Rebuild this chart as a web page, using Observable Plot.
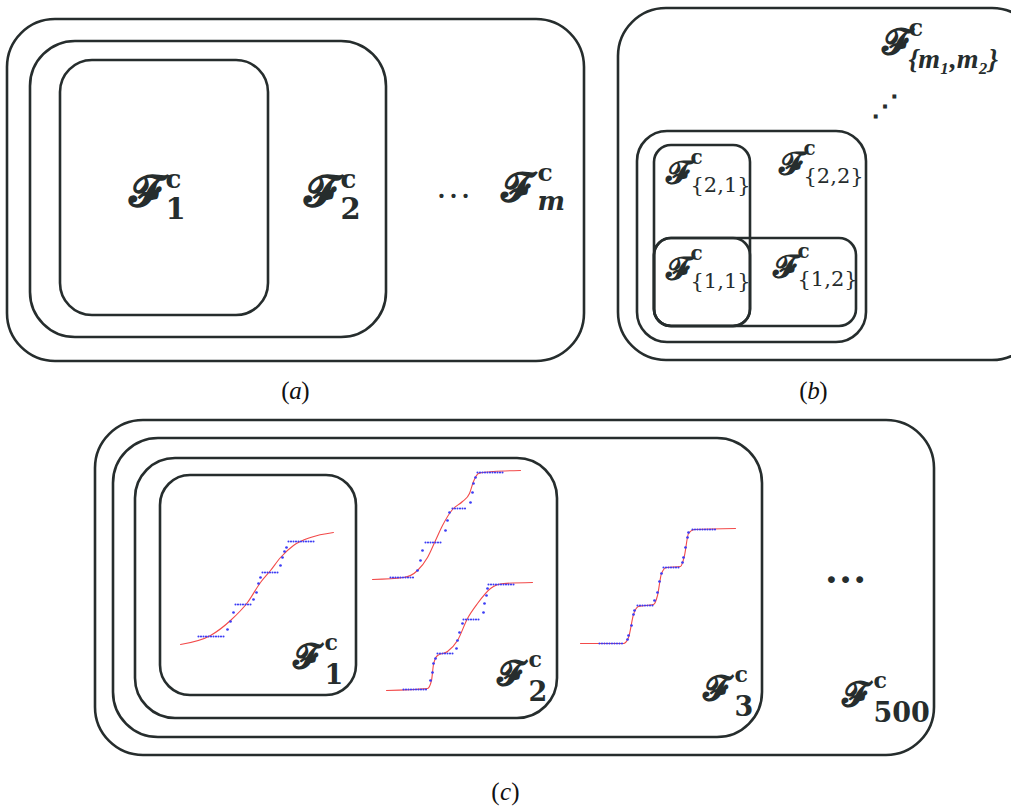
<!DOCTYPE html>
<html><head><meta charset="utf-8">
<script src="https://cdn.jsdelivr.net/npm/d3@7"></script>
<script src="https://cdn.jsdelivr.net/npm/@observablehq/plot@0.6"></script>
<style>body{margin:0;background:#fff}svg{display:block}</style>
</head><body><div id="chart"></div>
<script>
// Nested family boxes (diagram units = picture pixels)
const boxesA = [
  {x1: 7, x2: 584, y1: 19, y2: 361, r: 48},
  {x1: 30, x2: 386, y1: 41, y2: 337, r: 45},
  {x1: 60, x2: 268, y1: 60, y2: 315, r: 32}
];
const boxesB = [
  {x1: 618, x2: 1040, y1: 8, y2: 360, r: 48},
  {x1: 637, x2: 866, y1: 131, y2: 342, r: 30},
  {x1: 654, x2: 750, y1: 145, y2: 326, r: 17},
  {x1: 654, x2: 856, y1: 238, y2: 326, r: 17},
  {x1: 654, x2: 750, y1: 238, y2: 326, r: 17}
];
const boxesC = [
  {x1: 95, x2: 934, y1: 420, y2: 755, r: 48},
  {x1: 113, x2: 762, y1: 438, y2: 737, r: 45},
  {x1: 135, x2: 557, y1: 458, y2: 718, r: 40},
  {x1: 160, x2: 356, y1: 475, y2: 695, r: 30}
];

// Fitted (red) curves
const red1 = [[180,644],[210,635],[230,620],[247,602],[260,582],[270,570],[280,557],[293,545],[310,537],[333,532]];
const red2a = [[372,579],[403,577],[417,570],[427,557],[435,540],[442,525],[452,509],[462,501],[469,493],[473,481],[478,473],[493,471],[520,470]];
const red2b = [[386,690],[427,688],[431,680],[433,664],[437,655],[447,651],[457,640],[467,618],[477,603],[490,588],[503,583],[532,582]];
const red3 = [[580,643],[623,643],[628,637],[633,614],[638,606],[653,604],[657,595],[661,573],[666,567],[680,566],[684,555],[688,533],[694,529],[735,528]];

// Empirical (blue) plateaus: [xStart, xEnd, y]
const flat1 = [[198,225,636],[235,251,604],[262,278,572],[288,314,541]];
const flat2a = [[390,415,577],[425,442,542],[452,467,508],[477,503,472]];
const flat2b = [[403,427,689],[437,453,653],[463,480,619],[488,514,584]];
const flat3 = [[599,623,643],[637,653,605],[663,680,567],[692,716,529]];

// Empirical (blue) points between plateaus
const step1 = [[227,629],[230,621],[233,612],[253,599],[256,592],[258,583],[260,577],[280,565],[282,557],[284,551],[286,547]];
const step2a = [[417,570],[420,560],[422,550],[445,530],[447,520],[449,512],[470,502],[472,492],[473,483],[475,477]];
const step2b = [[430,680],[432,672],[433,663],[435,658],[456,648],[457,640],[459,632],[462,623],[483,612],[484,603],[486,595],[487,588]];
const step3 = [[627,639],[628,635],[631,625],[633,614],[634,610],[654,600],[657,592],[659,581],[661,573],[682,562],[683,557],[685,547],[687,537],[688,532]];

// Labels F^c_sub: x = left of F, y = baseline of F, kind = label style
const labels = [
  {x: 128, y: 205, sub: "1", kind: "a"},
  {x: 303, y: 205, sub: "2", kind: "a"},
  {x: 500, y: 200, sub: "m", kind: "am"},
  {x: 881, y: 53, sub: "{m₁,m₂}", kind: "bm"},
  {x: 665, y: 182, sub: "{2,1}", kind: "b"},
  {x: 778, y: 173, sub: "{2,2}", kind: "b"},
  {x: 665, y: 278, sub: "{1,1}", kind: "b"},
  {x: 772, y: 276, sub: "{1,2}", kind: "b"},
  {x: 292, y: 667, sub: "1", kind: "c"},
  {x: 496, y: 684, sub: "2", kind: "c"},
  {x: 702, y: 699, sub: "3", kind: "c"},
  {x: 841, y: 705, sub: "500", kind: "c"}
];
const ellipses = [
  {x: 453, y: 197, t: "…", kind: "a"},
  {x: 845, y: 582, t: "…", kind: "c"},
  {x: 884, y: 114, t: "⋰", kind: "b"}
];
const captions = [
  {x: 295, y: 398, t: "a"},
  {x: 813, y: 398, t: "b"},
  {x: 505, y: 799, t: "c"}
];

const ink = "#262d2d";
const blue = "#3c3cf5";
const redc = "#f24a4a";

// per-kind typography: F size, c size, sub size, sub offset x, c / sub baseline offsets
const kinds = {
  a:  {s: 44, cs: 26, ss: 29, dx: 37, cdy: -18, sdy: 13, w: "bold", st: "normal", ff: "DejaVu Serif, serif"},
  am: {s: 40, cs: 25, ss: 26, dx: 37, cdy: -20, sdy: 9, w: "bold", st: "italic", ff: "DejaVu Serif, serif"},
  b:  {s: 32, cs: 20, ss: 21, dx: 25, cdy: -19, sdy: 9, w: "normal", st: "normal", ff: "DejaVu Serif, serif"},
  bm: {s: 36, cs: 24, ss: 28, dx: 27, cdy: -18, sdy: 14, w: "bold", st: "italic", ff: "Liberation Serif, DejaVu Serif, serif"},
  c:  {s: 34, cs: 22, ss: 27, dx: 32, cdy: -18, sdy: 16, w: "bold", st: "normal", ff: "DejaVu Serif, serif"}
};

const allBoxes = [...boxesA, ...boxesB, ...boxesC];
const radii = [...new Set(allBoxes.map(d => d.r))];
const boxMarks = radii.map(r => Plot.rect(allBoxes.filter(d => d.r === r), {
  x1: "x1", x2: "x2", y1: "y1", y2: "y2", rx: r, fill: "none", stroke: ink, strokeWidth: 2.6
}));

const reds = [red1, red2a, red2b, red3];
const flats = [flat1, flat2a, flat2b, flat3].flat();
const steps = [step1, step2a, step2b, step3].flat();

const L = labels.map(d => ({...d, ...kinds[d.kind]}));
const labelMarks = Object.keys(kinds).map(k => {
  const st = kinds[k];
  return Plot.text(L.filter(d => d.kind === k), {x: d => d.x + d.dx, y: d => d.y + d.sdy, text: "sub", fontSize: st.ss, textAnchor: "start", lineAnchor: "bottom", fill: ink, fontFamily: st.ff, fontWeight: st.w, fontStyle: st.st});
});

const ellSize = {a: 36, b: 28, c: 42};

const marks = [
  ...boxMarks,
  ...reds.map(c => Plot.line(c, {x: d => d[0], y: d => d[1], curve: "monotone-x", stroke: redc, strokeWidth: 1.1})),
  Plot.link(flats, {x1: d => d[0], x2: d => d[1], y1: d => d[2], y2: d => d[2], stroke: blue, strokeWidth: 2.1, strokeDasharray: "0 2.5", strokeLinecap: "round"}),
  Plot.dot(steps, {x: d => d[0], y: d => d[1], r: 1.35, fill: blue}),
  Plot.text(L, {x: "x", y: "y", text: () => "𝓕", fontSize: "s", textAnchor: "start", lineAnchor: "bottom", fill: ink, fontFamily: "DejaVu Serif, DejaVu Sans, serif", fontWeight: "bold"}),
  Plot.text(L, {x: d => d.x + d.dx, y: d => d.y + d.cdy, text: () => "c", fontSize: "cs", textAnchor: "start", lineAnchor: "bottom", fill: ink, fontFamily: "DejaVu Serif, serif", fontWeight: "bold"}),
  ...labelMarks,
  Plot.text(ellipses.filter(d => d.kind === "a"), {x: "x", y: "y", text: "t", fontSize: ellSize.a, textAnchor: "middle", lineAnchor: "bottom", fill: ink, fontFamily: "Liberation Serif, serif"}),
  Plot.text(ellipses.filter(d => d.kind === "c"), {x: "x", y: "y", text: "t", fontSize: ellSize.c, textAnchor: "middle", lineAnchor: "bottom", fill: ink, fontFamily: "Liberation Serif, serif", fontWeight: "bold"}),
  Plot.text(ellipses.filter(d => d.kind === "b"), {x: "x", y: "y", text: "t", fontSize: ellSize.b, textAnchor: "middle", lineAnchor: "bottom", fill: ink, fontFamily: "DejaVu Serif, serif", fontWeight: "bold"}),
  Plot.text(captions, {x: "x", y: "y", text: "t", fontSize: 25, textAnchor: "middle", lineAnchor: "bottom", fill: "#111", fontFamily: "Liberation Serif, serif", fontStyle: "italic"}),
  Plot.text(captions, {x: "x", y: "y", text: () => "(", dx: -10, fontSize: 25, textAnchor: "middle", lineAnchor: "bottom", fill: "#111", fontFamily: "Liberation Serif, serif"}),
  Plot.text(captions, {x: "x", y: "y", text: () => ")", dx: 10, fontSize: 25, textAnchor: "middle", lineAnchor: "bottom", fill: "#111", fontFamily: "Liberation Serif, serif"})
];

const chart = Plot.plot({
  width: 1011, height: 806, margin: 0,
  x: {domain: [0, 1011], range: [0, 1011], axis: null},
  y: {domain: [0, 806], range: [0, 806], axis: null},
  style: {background: "#fff", overflow: "hidden"},
  marks
});
document.getElementById("chart").append(chart);
</script>
</body></html>
